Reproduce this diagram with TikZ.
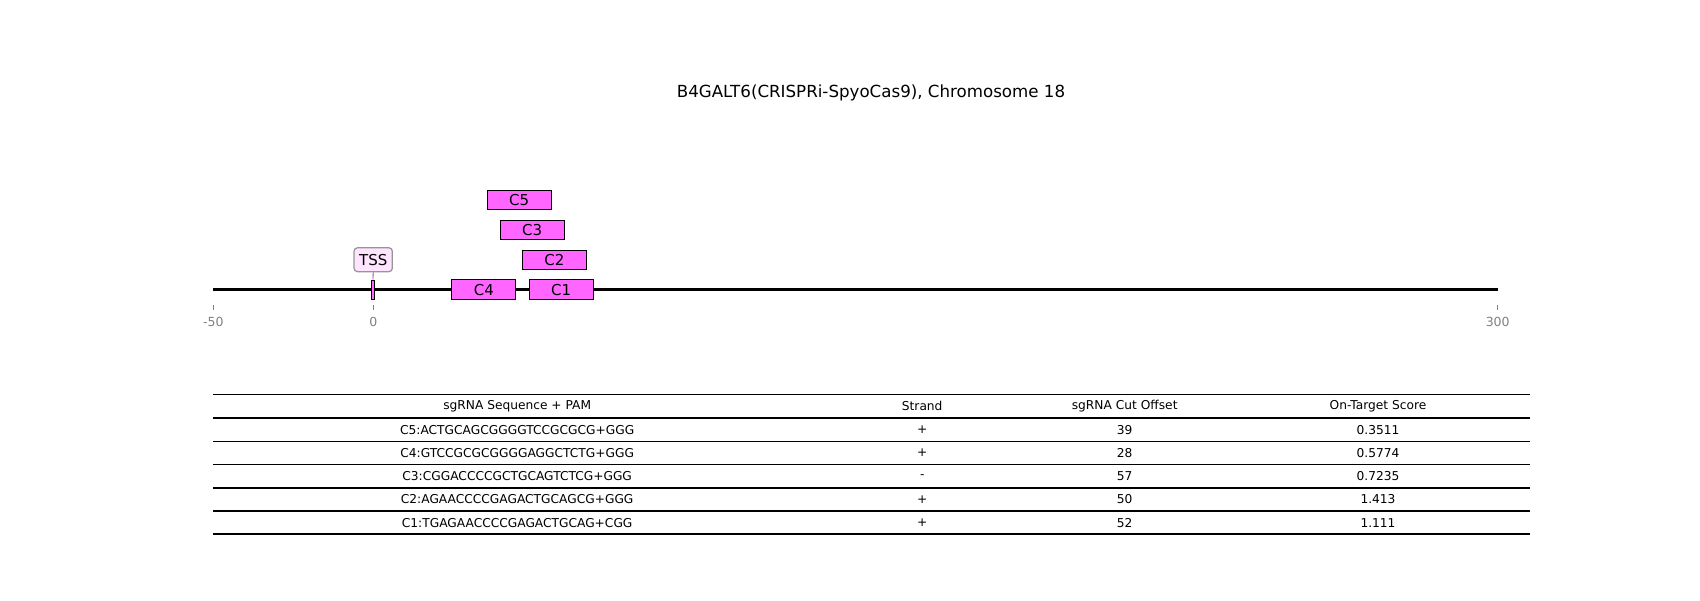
\documentclass[tikz,border=0pt]{standalone}
\usepackage{fontspec}
\setmainfont{DejaVu Sans}
\definecolor{guidefill}{RGB}{255,102,255}
\definecolor{tsslabfill}{RGB}{255,228,255}
\definecolor{tssborder}{RGB}{150,150,150}
\definecolor{tsslink}{RGB}{170,70,170}
\definecolor{tickgray}{RGB}{128,128,128}
\begin{document}
\begin{tikzpicture}[x=0.72pt,y=-0.72pt,
  guide/.style={draw=black,fill=guidefill,line width=0.72pt,minimum width=46.3pt,minimum height=13.9pt,inner sep=0pt,font=\fontsize{10.8}{12}\selectfont},
  tickmark/.style={draw=tickgray,line width=0.6pt},
  ticklab/.style={text=tickgray,font=\fontsize{9}{10}\selectfont,inner sep=0pt},
  cell/.style={font=\fontsize{8.8}{10}\selectfont,inner sep=0pt},
  tablerule/.style={line width=1.1pt}]
\useasboundingbox (0,0) rectangle (1700,600);
% title
\node[font=\fontsize{12}{14}\selectfont,inner sep=0pt] (title) at (871,93) {B4GALT6(CRISPRi-SpyoCas9), Chromosome 18};
% axis
\coordinate (axL) at (213.3,289.5);
\coordinate (axR) at (1497.7,289.5);
\draw[line width=1.5pt] (axL) -- (axR);
% ticks
\coordinate (t1a) at (213.3,305); \coordinate (t1b) at (213.3,310);
\coordinate (t2a) at (373.3,305); \coordinate (t2b) at (373.3,310);
\coordinate (t3a) at (1497.7,305); \coordinate (t3b) at (1497.7,310);
\draw[tickmark] (t1a) -- (t1b);
\draw[tickmark] (t2a) -- (t2b);
\draw[tickmark] (t3a) -- (t3b);
\node[ticklab] (lm50) at (213.3,321.7) {-50};
\node[ticklab] (l0) at (373.3,321.7) {0};
\node[ticklab] (l300) at (1497.7,321.7) {300};
% guides
\node[guide] (C5) at (519.2,199.7) {C5};
\node[guide] (C3) at (532.2,229.7) {C3};
\node[guide] (C2) at (554.5,259.7) {C2};
\node[guide] (C4) at (483.8,289.6) {C4};
\node[guide] (C1) at (561.2,289.6) {C1};
% TSS
\node[draw=black,fill=guidefill,line width=0.6pt,minimum width=2.4pt,minimum height=13.9pt,inner sep=0pt] (tss) at (373.0,289.6) {};
\node[draw=tssborder,fill=tsslabfill,line width=0.9pt,rounded corners=2.5pt,minimum width=27.6pt,minimum height=17.2pt,inner sep=0pt,font=\fontsize{10.8}{12}\selectfont] (tsslab) at (373.2,259.7) {TSS};
\draw[tsslink,line width=0.6pt] (tsslab.south) -- (tss.north);
% table rules
\foreach \yy/\nm in {394.3/r0,418.0/r1,441.3/r2,464.6/r3,487.8/r4,511.0/r5,534.2/r6}{
  \coordinate (\nm L) at (213.3,\yy);
  \coordinate (\nm R) at (1530,\yy);
  \draw[tablerule] (\nm L) -- (\nm R);
}
% header
\node[cell] (h1) at (517.2,406.2) {sgRNA Sequence + PAM};
\node[cell] (h2) at (922.2,406.2) {Strand};
\node[cell] (h3) at (1124.7,406.2) {sgRNA Cut Offset};
\node[cell] (h4) at (1378,406.2) {On-Target Score};
% rows
\node[cell] (a1) at (517.2,429.7) {C5:ACTGCAGCGGGGTCCGCGCG+GGG};
\node[cell] (a2) at (922.2,429.7) {+};
\node[cell] (a3) at (1124.7,429.7) {39};
\node[cell] (a4) at (1378,429.7) {0.3511};
\node[cell] (b1) at (517.2,453) {C4:GTCCGCGCGGGGAGGCTCTG+GGG};
\node[cell] (b2) at (922.2,453) {+};
\node[cell] (b3) at (1124.7,453) {28};
\node[cell] (b4) at (1378,453) {0.5774};
\node[cell] (c1) at (517.2,476.2) {C3:CGGACCCCGCTGCAGTCTCG+GGG};
\node[cell] (c2) at (922.2,476.2) {-};
\node[cell] (c3) at (1124.7,476.2) {57};
\node[cell] (c4) at (1378,476.2) {0.7235};
\node[cell] (d1) at (517.2,499.4) {C2:AGAACCCCGAGACTGCAGCG+GGG};
\node[cell] (d2) at (922.2,499.4) {+};
\node[cell] (d3) at (1124.7,499.4) {50};
\node[cell] (d4) at (1378,499.4) {1.413};
\node[cell] (e1) at (517.2,522.6) {C1:TGAGAACCCCGAGACTGCAG+CGG};
\node[cell] (e2) at (922.2,522.6) {+};
\node[cell] (e3) at (1124.7,522.6) {52};
\node[cell] (e4) at (1378,522.6) {1.111};
\end{tikzpicture}
\end{document}
